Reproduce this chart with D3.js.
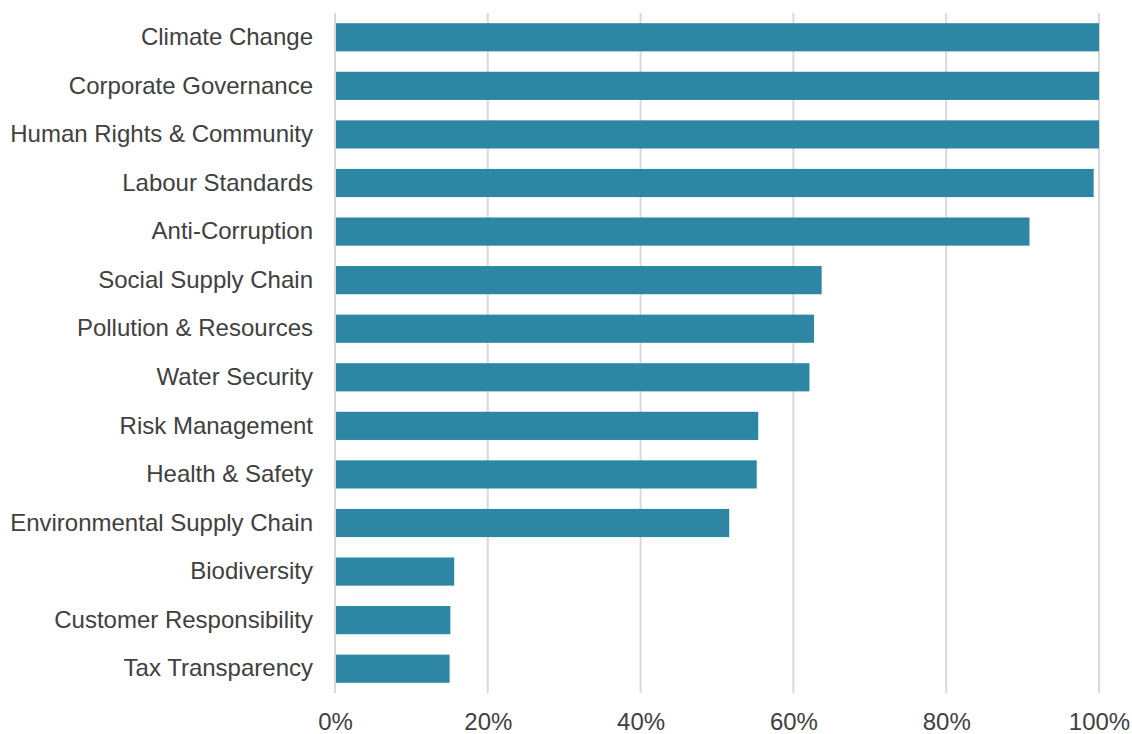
<!DOCTYPE html>
<html>
<head>
<meta charset="utf-8">
<script src="https://cdn.jsdelivr.net/npm/d3@7"></script>
<style>
  html, body { margin: 0; padding: 0; background: #fff; }
  svg { display: block; }
  svg text { font-family: Arial, "Liberation Sans", Helvetica, sans-serif; }
</style>
</head>
<body>
<svg id="chart" width="1132" height="734"></svg>
<script>
// Share of companies covering each topic
const categories = [
  "Climate Change", "Corporate Governance", "Human Rights & Community",
  "Labour Standards", "Anti-Corruption", "Social Supply Chain",
  "Pollution & Resources", "Water Security", "Risk Management",
  "Health & Safety", "Environmental Supply Chain", "Biodiversity",
  "Customer Responsibility", "Tax Transparency"
];
const values = [1.0, 1.0, 1.0, 0.993, 0.909, 0.637, 0.627, 0.621, 0.554, 0.552, 0.516, 0.156, 0.151, 0.150];
const tickValues = [0, 0.2, 0.4, 0.6, 0.8, 1.0];

const svg = d3.select("#chart");
const margin = { top: 13, right: 33, bottom: 41, left: 335 };
const width = 1132 - margin.left - margin.right;
const height = 734 - margin.top - margin.bottom;
const textColor = "#404040";

const x = d3.scaleLinear().domain([0, 1]).range([0, width]);
const y = d3.scaleBand().domain(categories).range([0, height]).paddingInner(0.42).paddingOuter(0.21);

const g = svg.append("g").attr("transform", `translate(${margin.left},${margin.top})`);

// vertical gridlines
g.append("g")
  .selectAll("line")
  .data(tickValues)
  .join("line")
  .attr("x1", d => x(d)).attr("x2", d => x(d))
  .attr("y1", 0).attr("y2", height)
  .attr("stroke", "#d9d9d9")
  .attr("stroke-width", 2);

// bars
g.append("g")
  .selectAll("rect")
  .data(categories)
  .join("rect")
  .attr("x", x(0) + 1)
  .attr("y", d => y(d))
  .attr("width", (d, i) => x(values[i]) - x(0) - 1)
  .attr("height", y.bandwidth())
  .attr("fill", "#2D86A3");

// category axis
const yAxis = g.append("g").call(d3.axisLeft(y).tickSize(0).tickPadding(22));
yAxis.attr("font-family", null);
yAxis.select(".domain").remove();
yAxis.selectAll("text")
  .attr("font-size", 24)
  .attr("fill", textColor);

// value axis
const xAxis = g.append("g")
  .attr("transform", `translate(0,${height})`)
  .call(d3.axisBottom(x).tickValues(tickValues).tickFormat(d3.format(".0%")).tickSize(0).tickPadding(20));
xAxis.attr("font-family", null);
xAxis.select(".domain").remove();
xAxis.selectAll("text")
  .attr("font-size", 24)
  .attr("fill", textColor);
</script>
</body>
</html>
